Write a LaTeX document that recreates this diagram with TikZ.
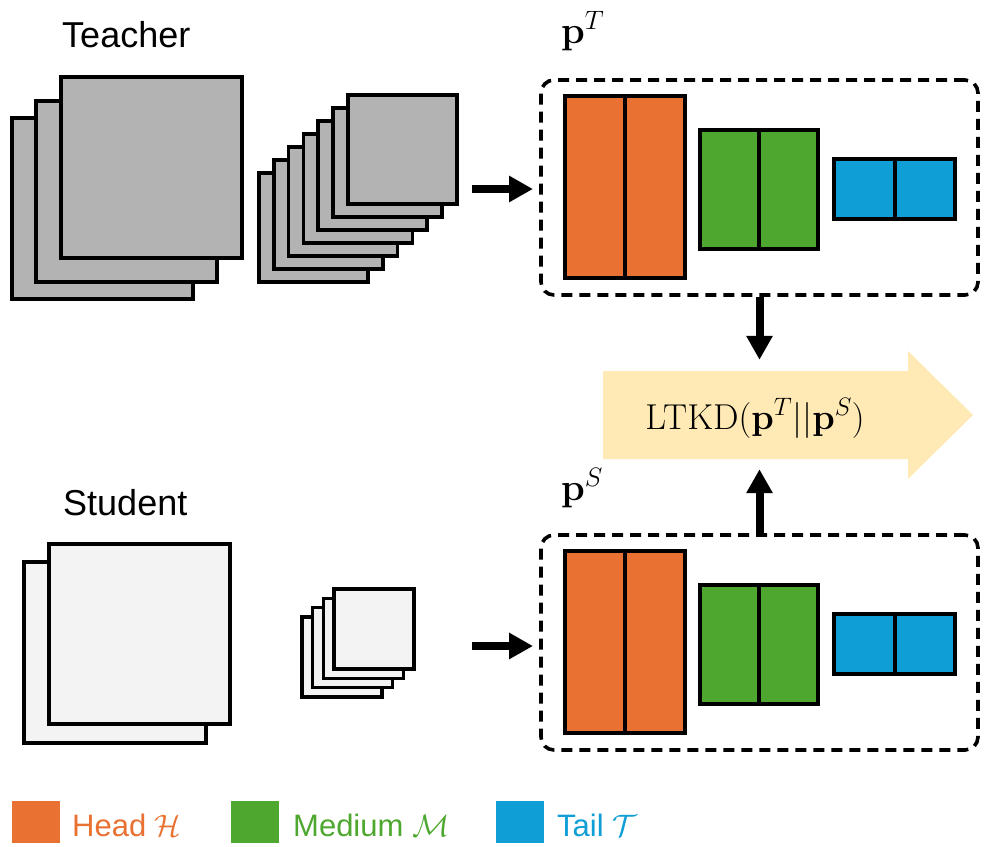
\RequirePackage{fix-cm}
\documentclass[tikz,border=0pt]{standalone}
\usepackage[no-math]{fontspec}
\newfontfamily\arial{Liberation Sans}
\usetikzlibrary{arrows.meta}
\definecolor{headc}{HTML}{E97132}
\definecolor{medc}{HTML}{4EA72E}
\definecolor{tailc}{HTML}{0F9ED5}
\definecolor{tgray}{HTML}{B3B3B3}
\definecolor{sgray}{HTML}{F3F3F3}
\definecolor{ylw}{HTML}{FFEAB5}
\tikzset{
  sq/.style={draw=black, line width=3.5pt},
  bar/.style={draw=black, line width=3.3pt},
  dbox/.style={draw=black, line width=3.6pt, dash pattern=on 11pt off 7pt, rounded corners=13pt, minimum width=437pt, minimum height=215pt, inner sep=0pt},
  bigarrow/.style={line width=8pt, -{Triangle[length=24pt,width=25pt]}},
  lbl/.style={inner sep=0pt, anchor=base west},
  leg/.style={inner sep=0pt, anchor=base west, font=\arial\fontsize{31}{36}\selectfont},
}
\begin{document}
\begin{tikzpicture}[x=1pt, y=-1pt]
\useasboundingbox (0,0) rectangle (984,846);
% labels
\node[lbl, font=\arial\fontsize{36}{40}\selectfont] (tlab) at (62,47) {Teacher};
\node[lbl, font=\arial\fontsize{36}{40}\selectfont] (slab) at (63,515) {Student};
% teacher big stack
\draw[sq, fill=tgray] (12,118) rectangle ++(181,181);
\draw[sq, fill=tgray] (36,101) rectangle ++(181,181);
\draw[sq, fill=tgray] (61,77) rectangle ++(181,181);
% teacher small stack
\foreach \i in {0,...,6}{
  \draw[sq, fill=tgray] ({259+14.8*\i},{173-13*\i}) rectangle ++(109,109);
}
% student big stack
\draw[sq, fill=sgray] (24,562) rectangle ++(182,181);
\draw[sq, fill=sgray] (49,544) rectangle ++(181,180);
% student small stack
\foreach \i in {0,...,3}{
  \draw[sq, fill=sgray] ({302+10.7*\i},{617-9.3*\i}) rectangle ++(80,80);
}
% dashed boxes
\node[dbox] (tbox) at (759.5,187.5) {};
\node[dbox] (sbox) at (759.5,642.5) {};
% bars
\foreach \dy in {0,455}{
  \draw[bar, fill=headc] (565,96+\dy) rectangle (685,278+\dy);
  \draw[bar] (625,96+\dy) -- (625,278+\dy);
  \draw[bar, fill=medc] (700,130+\dy) rectangle (818,249+\dy);
  \draw[bar] (759,130+\dy) -- (759,249+\dy);
  \draw[bar, fill=tailc] (834,159+\dy) rectangle (955,219+\dy);
  \draw[bar] (895,159+\dy) -- (895,219+\dy);
}
% p labels
\node[lbl, font=\fontsize{38}{44}\selectfont] (pt) at (561,43) {$\mathbf{p}^{T}$};
\node[lbl, font=\fontsize{38}{44}\selectfont] (ps) at (561,500) {$\mathbf{p}^{S}$};
% yellow arrow
\fill[ylw] (603,371) -- (908,371) -- (908,351) -- (973,415) -- (908,479) -- (908,459) -- (603,459) -- cycle;
\node[inner sep=0pt, anchor=base, font=\fontsize{36}{42}\selectfont] (ltkd) at (755,429) {$\mathrm{LTKD}(\mathbf{p}^{T}||\mathbf{p}^{S})$};
% arrows
\coordinate (ta1) at (472,189);
\coordinate (ta2) at (533,189);
\coordinate (sa1) at (472,646);
\coordinate (sa2) at (533,646);
\draw[bigarrow] (ta1) -- (ta2);
\draw[bigarrow] (sa1) -- (sa2);
\draw[bigarrow] (tbox.south) -- ++(0,63);
\draw[bigarrow] (sbox.north) -- ++(0,-64);
% legend
\fill[headc] (12,801) rectangle (60,843);
\fill[medc] (231,801) rectangle (279,843);
\fill[tailc] (496,801) rectangle (544,843);
\node[leg, text=headc] (lh) at (72,836) {Head $\mathcal{H}$};
\node[leg, text=medc] (lm) at (293,836) {Medium $\mathcal{M}$};
\node[leg, text=tailc] (lt) at (557,836) {Tail $\mathcal{T}$};
\end{tikzpicture}
\end{document}
